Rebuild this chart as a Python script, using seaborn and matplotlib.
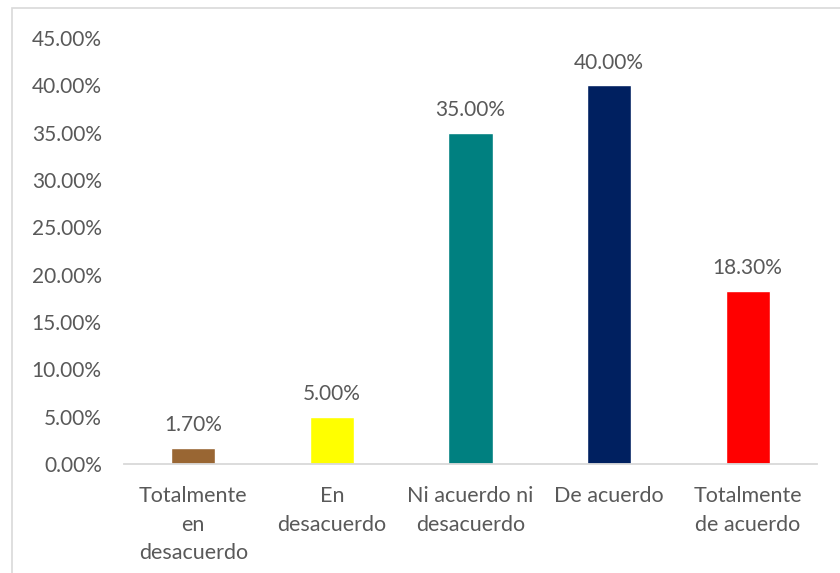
import matplotlib
matplotlib.use("Agg")
import matplotlib.pyplot as plt
import seaborn as sns
import pandas as pd
from matplotlib.patches import Rectangle

categories = ["Totalmente\nen\ndesacuerdo", "En\ndesacuerdo", "Ni acuerdo ni\ndesacuerdo",
              "De acuerdo", "Totalmente\nde acuerdo"]
values = [1.70, 5.00, 35.00, 40.00, 18.30]
colors = ["#996633", "#FFFF00", "#008080", "#002060", "#FF0000"]
yticks = [0, 5, 10, 15, 20, 25, 30, 35, 40, 45]

sns.set_theme(style="white")
plt.rcParams["font.family"] = ["Lato", "DejaVu Sans"]
text_color = "#595959"
fs = 15

df = pd.DataFrame({"cat": categories, "val": values})

fig = plt.figure(figsize=(8.4, 5.73), dpi=100)
ax = fig.add_axes([0.1476, 0.1902, 0.825, 0.7435])

sns.barplot(data=df, x="cat", y="val", hue="cat", palette=colors, width=0.32,
            legend=False, ax=ax, saturation=1)

ax.set_ylim(0, 45)
ax.set_yticks(yticks)
ax.set_yticklabels([f"{t:.2f}%" for t in yticks], fontsize=fs, color=text_color)
ax.set_xlim(-0.5, 4.5)
ax.tick_params(axis="x", length=0, pad=16, labelsize=15.5, labelcolor=text_color)
ax.tick_params(axis="y", length=0, pad=16)
ax.set_xlabel("")
ax.set_ylabel("")
for lbl in ax.get_xticklabels():
    lbl.set_linespacing(1.53)

for s in ["top", "right", "left"]:
    ax.spines[s].set_visible(False)
ax.spines["bottom"].set_color("#D9D9D9")
ax.spines["bottom"].set_linewidth(1.3)

for i, v in enumerate(values):
    ax.annotate(f"{v:.2f}%", (i, v), xytext=(0, 9), textcoords="offset points",
                ha="center", va="bottom", fontsize=fs, color=text_color)

# chart area frame
fig.patches.append(Rectangle((12 / 840, -0.05), 1.1, 1 - 8 / 573 + 0.05,
                             transform=fig.transFigure, fill=False,
                             edgecolor="#D9D9D9", linewidth=1.2))

fig.savefig("out.png", dpi=100)
